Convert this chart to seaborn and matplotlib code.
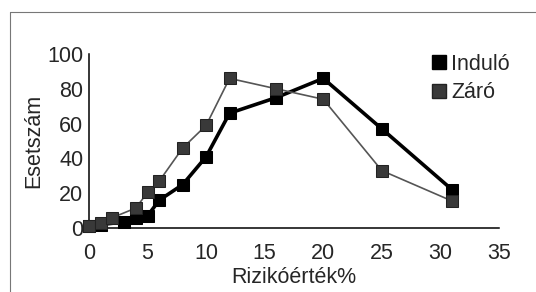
import matplotlib
matplotlib.use("Agg")
import matplotlib.pyplot as plt
from matplotlib.lines import Line2D
import seaborn as sns

# Data
indulo_x = [0, 1, 3, 4, 5, 6, 8, 10, 12, 16, 20, 25, 31]
indulo_y = [1, 2, 3.5, 5.5, 7, 16, 25, 41, 66, 75, 86, 57, 22]

zaro_x = [0, 1, 2, 4, 5, 6, 8, 10, 12, 16, 20, 25, 31]
zaro_y = [1, 3, 6, 11.5, 20.5, 27, 46, 59, 86, 80, 74, 33, 15.5]

x_ticks = [0, 5, 10, 15, 20, 25, 30, 35]
y_ticks = [0, 20, 40, 60, 80, 100]

sns.set_style("white")
plt.rcParams['font.family'] = ['Liberation Sans Narrow', 'Liberation Sans', 'DejaVu Sans']
fs = 15.5

fig = plt.figure(figsize=(5.36, 2.92), dpi=100)
ax = fig.add_axes([0.166, 0.219, 0.765, 0.596])

zaro_col = "#393939"
sns.lineplot(x=indulo_x, y=indulo_y, ax=ax, color="black", linewidth=2.6,
             marker="s", markersize=9, markeredgecolor="black", zorder=3)
sns.lineplot(x=zaro_x, y=zaro_y, ax=ax, color="#555555", linewidth=1.2,
             marker="s", markersize=9, markerfacecolor=zaro_col,
             markeredgecolor="#222222", zorder=4)
for ln in ax.lines:
    ln.set_clip_on(False)

ax.set_xlim(0, 35)
ax.set_ylim(0, 100)
ax.set_xticks(x_ticks)
ax.set_yticks(y_ticks)
ax.tick_params(axis="y", direction="in", length=5, width=1, pad=4, labelsize=fs)
ax.tick_params(axis="x", length=0, pad=11, labelsize=fs)
for side in ["top", "right"]:
    ax.spines[side].set_visible(False)
for side in ["left", "bottom"]:
    ax.spines[side].set_linewidth(1.1)
    ax.spines[side].set_color("black")

ax.set_xlabel("Rizikóérték%", fontsize=fs, labelpad=2)
ax.set_ylabel("Esetszám", fontsize=fs, labelpad=2)

handles = [
    Line2D([], [], linestyle="none", marker="s", markersize=10,
           markerfacecolor="black", markeredgecolor="black"),
    Line2D([], [], linestyle="none", marker="s", markersize=10,
           markerfacecolor=zaro_col, markeredgecolor="#222222"),
]
fig.legend(handles, ["Induló", "Záró"], loc="upper left",
           bbox_to_anchor=(0.79, 0.845), frameon=False, fontsize=fs,
           handlelength=0.6, handletextpad=0.3, labelspacing=0.35,
           borderaxespad=0)

# thin scanned frame around the figure
fig.add_artist(Line2D([10 / 536, 1], [1 - 12 / 292, 1 - 12 / 292],
                      transform=fig.transFigure, color="#777777", linewidth=0.8))
fig.add_artist(Line2D([10 / 536, 10 / 536], [0, 1 - 12 / 292],
                      transform=fig.transFigure, color="#777777", linewidth=0.8))

fig.savefig("out.png", dpi=100)
